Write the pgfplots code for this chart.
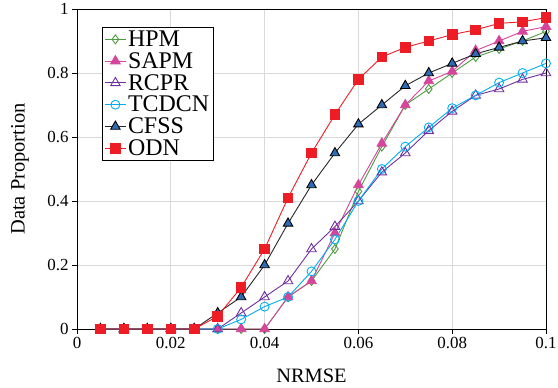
\documentclass[border=0pt]{standalone}
\usepackage{fontspec}
\setmainfont{Liberation Serif}
\usepackage{pgfplots}
\pgfplotsset{compat=1.18}
\definecolor{cHPM}{HTML}{4E9A3E}
\definecolor{cSAPM}{HTML}{D6449C}
\definecolor{cRCPR}{HTML}{7030A0}
\definecolor{cTCDCN}{HTML}{00AEEF}
\definecolor{cCFSSf}{HTML}{2E6BB5}
\definecolor{cODN}{HTML}{EE1C25}
\begin{document}
\begin{tikzpicture}
\begin{axis}[
  scale only axis,
  width=469bp, height=320bp,
  xmin=0, xmax=0.1, ymin=0, ymax=1,
  xtick={0,0.02,0.04,0.06,0.08,0.1},
  ytick={0,0.2,0.4,0.6,0.8,1},
  xticklabels={0,0.02,0.04,0.06,0.08,0.1},
  yticklabels={0,0.2,0.4,0.6,0.8,1},
  /pgf/number format/assume math mode=true,
  tick align=outside,
  xtick pos=bottom, ytick pos=left,
  major tick length=5bp,
  grid=major,
  major grid style={draw=black!15, line width=0.8pt},
  axis line style={line width=0.9pt},
  tick style={line width=0.9pt, black},
  tick label style={font=\fontsize{17}{17}\selectfont},
  xlabel={NRMSE}, ylabel={Data Proportion},
  label style={font=\fontsize{20.5}{20.5}\selectfont},
  xlabel style={at={(axis description cs:0.5,-0.147)}, anchor=center},
  ylabel style={at={(axis description cs:-0.1215,0.5)}, anchor=center},
  legend cell align=left,
  legend style={at={(0.053,0.944)}, anchor=north west, draw=black, line width=0.8pt,
    font=\fontsize{24}{24}\selectfont, inner xsep=2.5pt, inner ysep=1.5pt, row sep=0.5pt},
  legend image code/.code={
    \draw[mark repeat=2,mark phase=2] plot coordinates {(0cm,0cm) (0.36cm,0cm) (0.72cm,0cm)};},
  legend image post style={line width=0.9pt},
  every axis plot/.append style={line width=0.9pt},
]
\addplot[cHPM, mark=diamond, mark size=4.5pt, mark options={fill=white}] coordinates {
(0.005,0)(0.01,0)(0.015,0)(0.02,0)(0.025,0)(0.03,0)(0.035,0)(0.04,0)(0.045,0.10)(0.05,0.15)
(0.055,0.25)(0.06,0.43)(0.065,0.57)(0.07,0.70)(0.075,0.75)(0.08,0.80)(0.085,0.85)(0.09,0.875)(0.095,0.90)(0.1,0.93)};
\addlegendentry{HPM}
\addplot[cSAPM, mark=triangle*, mark size=5.5pt] coordinates {
(0.005,0)(0.01,0)(0.015,0)(0.02,0)(0.025,0)(0.03,0)(0.035,0)(0.04,0)(0.045,0.10)(0.05,0.15)
(0.055,0.30)(0.06,0.45)(0.065,0.58)(0.07,0.70)(0.075,0.775)(0.08,0.805)(0.085,0.87)(0.09,0.90)(0.095,0.93)(0.1,0.945)};
\addlegendentry{SAPM}
\addplot[cRCPR, mark=triangle, mark size=5.5pt, mark options={fill=white}] coordinates {
(0.005,0)(0.01,0)(0.015,0)(0.02,0)(0.025,0)(0.03,0)(0.035,0.05)(0.04,0.10)(0.045,0.15)(0.05,0.25)
(0.055,0.32)(0.06,0.40)(0.065,0.49)(0.07,0.55)(0.075,0.62)(0.08,0.68)(0.085,0.73)(0.09,0.75)(0.095,0.78)(0.1,0.80)};
\addlegendentry{RCPR}
\addplot[cTCDCN, mark=o, mark size=4.5pt] coordinates {
(0.005,0)(0.01,0)(0.015,0)(0.02,0)(0.025,0)(0.03,0)(0.035,0.03)(0.04,0.07)(0.045,0.10)(0.05,0.18)
(0.055,0.28)(0.06,0.40)(0.065,0.50)(0.07,0.57)(0.075,0.63)(0.08,0.69)(0.085,0.73)(0.09,0.77)(0.095,0.80)(0.1,0.83)};
\addlegendentry{TCDCN}
\addplot[black!85, mark=triangle*, mark size=5.5pt, mark options={fill=cCFSSf, draw=black}] coordinates {
(0.005,0)(0.01,0)(0.015,0)(0.02,0)(0.025,0)(0.03,0.05)(0.035,0.10)(0.04,0.20)(0.045,0.33)(0.05,0.45)
(0.055,0.55)(0.06,0.64)(0.065,0.70)(0.07,0.76)(0.075,0.80)(0.08,0.83)(0.085,0.86)(0.09,0.88)(0.095,0.90)(0.1,0.91)};
\addlegendentry{CFSS}
\addplot[cODN, mark=square*, mark size=4.8pt] coordinates {
(0.005,0)(0.01,0)(0.015,0)(0.02,0)(0.025,0)(0.03,0.04)(0.035,0.13)(0.04,0.25)(0.045,0.41)(0.05,0.55)
(0.055,0.67)(0.06,0.78)(0.065,0.85)(0.07,0.88)(0.075,0.90)(0.08,0.92)(0.085,0.935)(0.09,0.955)(0.095,0.96)(0.1,0.973)};
\addlegendentry{ODN}
\end{axis}
\pgfresetboundingbox
\path ([shift={(-77bp,-59bp)}]current axis.south west) rectangle ([shift={(12bp,9bp)}]current axis.north east);
\end{tikzpicture}
\end{document}
